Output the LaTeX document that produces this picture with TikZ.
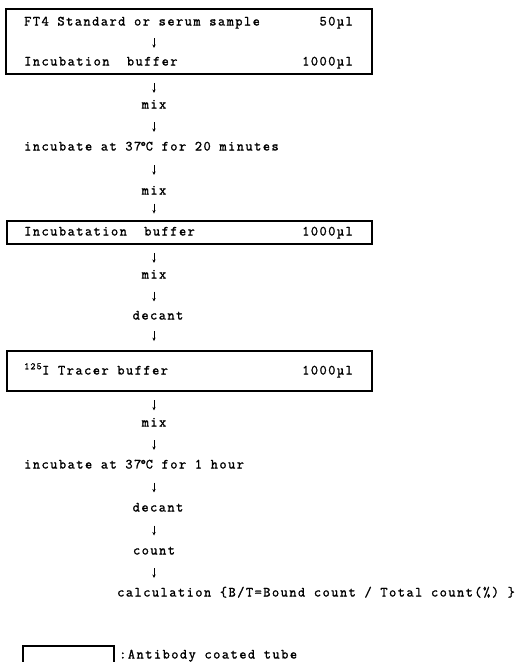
\documentclass[tikz,border=0pt]{standalone}
\usepackage{fontspec}
\newfontfamily\typefont{Latin Modern Mono}[LetterSpace=10.5,FakeBold=1.4]
\usetikzlibrary{calc,arrows.meta}
\newcommand{\degc}{\kern-.12em°\kern-.08em C}

\begin{document}
\begin{tikzpicture}[x=1pt,y=-1pt,
  txt/.style={font=\typefont\fontsize{14}{16}\selectfont,inner sep=0pt,text height=7pt,text depth=2pt},
  tube/.style={draw,line width=1.1pt,inner sep=0pt},
  flow/.style={line width=0.9pt,-{Stealth[length=3.5pt,width=3.2pt]},
    to path={($(\tikztostart)!.5!(\tikztotarget)+(0,-5)$) -- ($(\tikztostart)!.5!(\tikztotarget)+(0,5)$)}}]
  \useasboundingbox (0,0) rectangle (519,662);
  \coordinate (ax) at (154,0);
  % antibody coated tubes
  \node[tube,minimum width=366pt,minimum height=65pt] (box1) at (189,41.5) {};
  \node[tube,minimum width=365pt,minimum height=23pt] (box2) at (189.5,232.5) {};
  \node[tube,minimum width=365pt,minimum height=40pt] (box3) at (189.5,371) {};
  \node[tube,minimum width=91pt,minimum height=30pt] (legbox) at (68.5,661) {};
  % steps
  \node[txt,anchor=west] (ft4) at (24,23) {FT4 Standard or serum sample};
  \node[txt,anchor=east] (vol1) at (353,23) {50µl};
  \node[txt,anchor=west] (ibuf) at (24,63) {Incubation\ \ buffer};
  \node[txt,anchor=east] (vol2) at (353,63) {1000µl};
  \node[txt] (mix1) at (154,106) {mix};
  \node[txt,anchor=west] (inc1) at (24,148) {incubate at 37\degc\ for 20 minutes};
  \node[txt] (mix2) at (154,192) {mix};
  \node[txt,anchor=west] (ibuf2) at (24,233) {Incubatation\ \ buffer};
  \node[txt,anchor=east] (vol3) at (353,233) {1000µl};
  \node[txt] (mix3) at (154,276) {mix};
  \node[txt] (dec1) at (158,317) {decant};
  \node[txt,anchor=west] (tracer) at (24,372) {\textsuperscript{125}I Tracer buffer};
  \node[txt,anchor=east] (vol4) at (353,372) {1000µl};
  \node[txt] (mix4) at (154,424) {mix};
  \node[txt,anchor=west] (inc2) at (24,466) {incubate at 37\degc\ for 1 hour};
  \node[txt] (dec2) at (158,509) {decant};
  \node[txt] (cnt) at (154,552) {count};
  \node[txt,anchor=west] (calcline) at (117,594) {calculation \{B/T=Bound count / Total count(\%) \}};
  \node[txt,anchor=west] (legend) at (119,656) {:Antibody coated tube};
  % arrows
  \draw[flow] (ft4.south -| ax) to (ibuf.north -| ax);
  \draw[flow] (box1.south -| ax) to (mix1.north -| ax);
  \draw[flow] (mix1.south -| ax) to (inc1.north -| ax);
  \draw[flow] (inc1.south -| ax) to (mix2.north -| ax);
  \draw[flow] (mix2.south -| ax) to (box2.north -| ax);
  \draw[flow] (box2.south -| ax) to (mix3.north -| ax);
  \draw[flow] (mix3.south -| ax) to (dec1.north -| ax);
  \draw[flow] (dec1.south -| ax) to (box3.north -| ax);
  \draw[flow] (box3.south -| ax) to (mix4.north -| ax);
  \draw[flow] (mix4.south -| ax) to (inc2.north -| ax);
  \draw[flow] (inc2.south -| ax) to (dec2.north -| ax);
  \draw[flow] (dec2.south -| ax) to (cnt.north -| ax);
  \draw[flow] (cnt.south -| ax) to (calcline.north -| ax);
\end{tikzpicture}
\end{document}
